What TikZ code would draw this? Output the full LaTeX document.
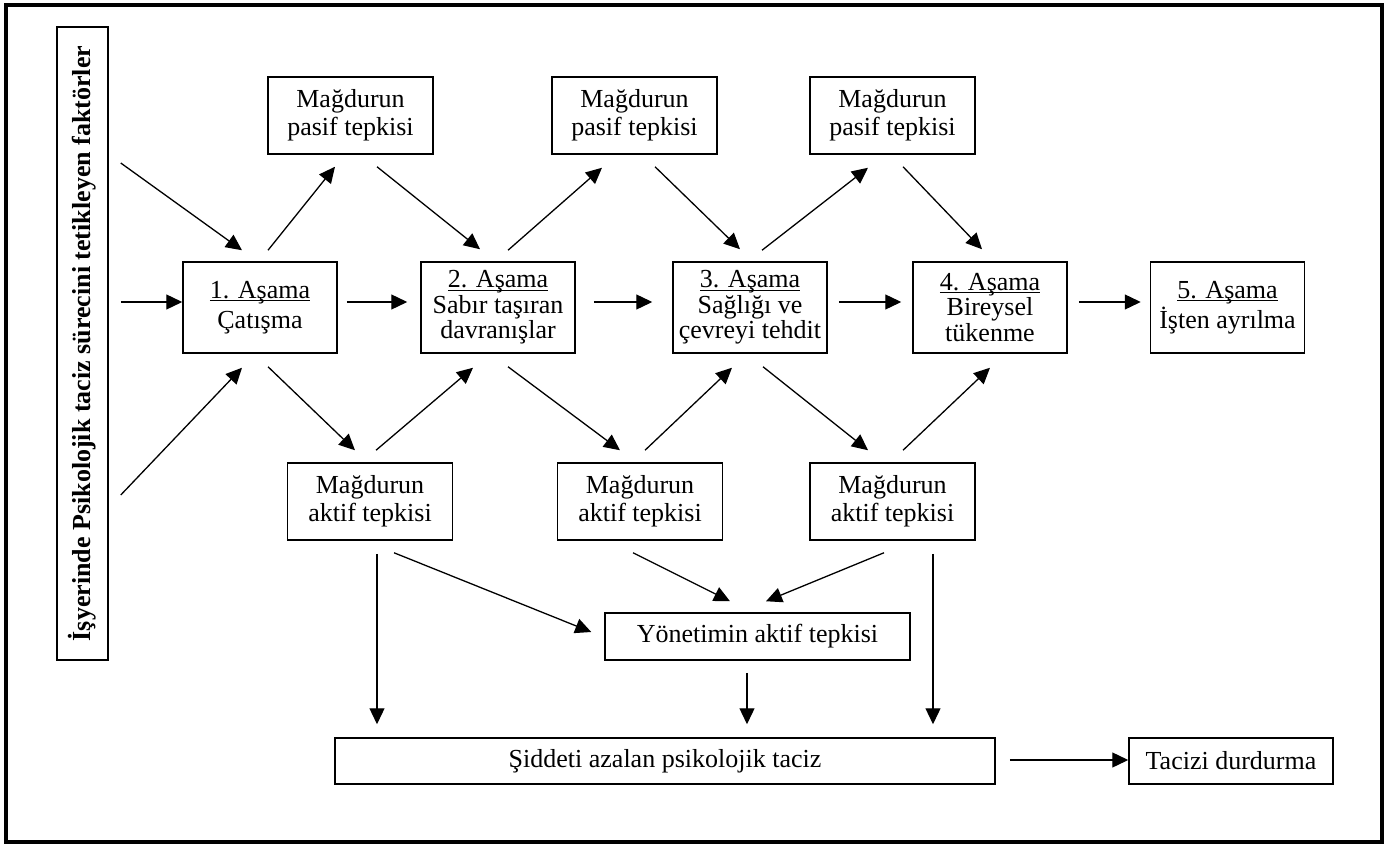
\documentclass[tikz,border=0pt]{standalone}
\usepackage{fontspec}
\setmainfont{Liberation Serif}
\usetikzlibrary{arrows.meta,calc}

% underline close to the baseline, as in the original
\newcommand{\alticizgi}[1]{\setbox0\hbox{#1}\rlap{\rule[-3pt]{\wd0}{1.3pt}}\box0}

\begin{document}
\begin{tikzpicture}[
  x=1pt, y=-1pt,
  font=\fontsize{26}{28}\selectfont,
  box/.style={draw=black, line width=1.5pt, inner sep=0pt, align=center},
  tepki/.style={box, minimum width=165pt, minimum height=77pt},
  asama/.style={box, minimum width=154pt, minimum height=91pt, font=\fontsize{26}{25.5}\selectfont},
  arr/.style={-{Triangle[length=16pt,width=15pt]}, line width=1.3pt},
]
  \useasboundingbox (0,0) rectangle (1392,850);
  \draw[line width=4pt] (6,5) rectangle (1382,842);

  % left: triggering factors (rotated, so its south side faces right)
  \node[box, rotate=90, minimum width=633pt, minimum height=51pt,
        font=\bfseries\fontsize{26}{28}\selectfont] (etken) at (82.5,343.5)
    {İşyerinde Psikolojik taciz sürecini tetikleyen faktörler};

  % stages
  \node[asama] (asama1) at (260,307.5) {\alticizgi{1. Aşama}\\[5pt] Çatışma};
  \node[asama] (asama2) at (498,307.5) {\alticizgi{2. Aşama}\\ Sabır taşıran\\ davranışlar};
  \node[asama] (asama3) at (750,307.5) {\alticizgi{3. Aşama}\\ Sağlığı ve\\ çevreyi tehdit};
  \node[asama] (asama4) at (990,307.5) {\alticizgi{4. Aşama}\\ Bireysel\\ tükenme};
  \node[asama] (asama5) at (1227.5,307.5) {\alticizgi{5. Aşama}\\[2pt] İşten ayrılma};

  % passive reactions
  \node[tepki] (pasif1) at (350.5,115.5) {Mağdurun\\ pasif tepkisi};
  \node[tepki] (pasif2) at (634.5,115.5) {Mağdurun\\ pasif tepkisi};
  \node[tepki] (pasif3) at (892.5,115.5) {Mağdurun\\ pasif tepkisi};

  % active reactions
  \node[tepki] (aktif1) at (370,501.5) {Mağdurun\\ aktif tepkisi};
  \node[tepki] (aktif2) at (640,501.5) {Mağdurun\\ aktif tepkisi};
  \node[tepki] (aktif3) at (892.5,501.5) {Mağdurun\\ aktif tepkisi};

  \node[box, minimum width=305pt, minimum height=47pt] (yonetim) at (757.5,636.5) {Yönetimin aktif tepkisi};
  \node[box, minimum width=660pt, minimum height=46pt] (siddet) at (665,761) {Şiddeti azalan psikolojik taciz};
  \node[box, minimum width=204pt, minimum height=46pt] (durdur) at (1231,761) {Tacizi durdurma};

  % factors into stage 1
  \draw[arr] ($(etken.south)+(12,-180.5)$) -- ($(asama1.north)+(-18,-11)$);
  \draw[arr] ($(etken.south)+(12,-41.5)$) -- ($(asama1.west)+(0,-5.5)$);
  \draw[arr] ($(etken.south)+(12,151.5)$) -- ($(asama1.south)+(-18,14)$);

  % stage to stage
  \draw[arr] ($(asama1.east)+(9,-5.5)$) -- ($(asama2.west)+(-13,-5.5)$);
  \draw[arr] ($(asama2.east)+(18,-5.5)$) -- ($(asama3.west)+(-20,-5.5)$);
  \draw[arr] ($(asama3.east)+(11,-5.5)$) -- ($(asama4.west)+(-11,-5.5)$);
  \draw[arr] ($(asama4.east)+(11,-5.5)$) -- ($(asama5.west)+(-9,-5.5)$);

  % upper loop through passive reactions
  \draw[arr] ($(asama1.north)+(8,-11)$) -- ($(pasif1.south)+(-15.5,12)$);
  \draw[arr] ($(pasif1.south)+(26.5,12)$) -- ($(asama2.north)+(-18,-12)$);
  \draw[arr] ($(asama2.north)+(10,-11)$) -- ($(pasif2.south)+(-32.5,13)$);
  \draw[arr] ($(pasif2.south)+(20.5,12)$) -- ($(asama3.north)+(-10,-12)$);
  \draw[arr] ($(asama3.north)+(12,-11)$) -- ($(pasif3.south)+(-24.5,13)$);
  \draw[arr] ($(pasif3.south)+(10.5,12)$) -- ($(asama4.north)+(-8,-12)$);

  % lower loop through active reactions
  \draw[arr] ($(asama1.south)+(8,13)$) -- ($(aktif1.north)+(-15,-12)$);
  \draw[arr] ($(aktif1.north)+(6,-12)$) -- ($(asama2.south)+(-25,14)$);
  \draw[arr] ($(asama2.south)+(10,13)$) -- ($(aktif2.north)+(-20,-12)$);
  \draw[arr] ($(aktif2.north)+(5,-12)$) -- ($(asama3.south)+(-18,14)$);
  \draw[arr] ($(asama3.south)+(13,13)$) -- ($(aktif3.north)+(-24.5,-12)$);
  \draw[arr] ($(aktif3.north)+(10.5,-12)$) -- ($(asama4.south)+(0,14)$);

  % towards management and decreasing harassment
  \draw[arr] ($(aktif1.south)+(24,12)$) -- ($(yonetim.west)+(-13,-4.5)$);
  \draw[arr] ($(aktif2.south)+(-7,12)$) -- ($(yonetim.north)+(-27.5,-11)$);
  \draw[arr] ($(aktif3.south)+(-8.5,12)$) -- ($(yonetim.north)+(8.5,-11)$);
  \draw[arr] ($(aktif1.south)+(7,13)$) -- ($(siddet.north)+(-288,-13)$);
  \draw[arr] ($(yonetim.south)+(-10.5,12)$) -- ($(siddet.north)+(82,-13)$);
  \draw[arr] ($(aktif3.south)+(40.5,13)$) -- ($(siddet.north)+(268,-13)$);
  \draw[arr] ($(siddet.east)+(14,-1)$) -- ($(durdur.west)+(0,-1)$);
\end{tikzpicture}
\end{document}
